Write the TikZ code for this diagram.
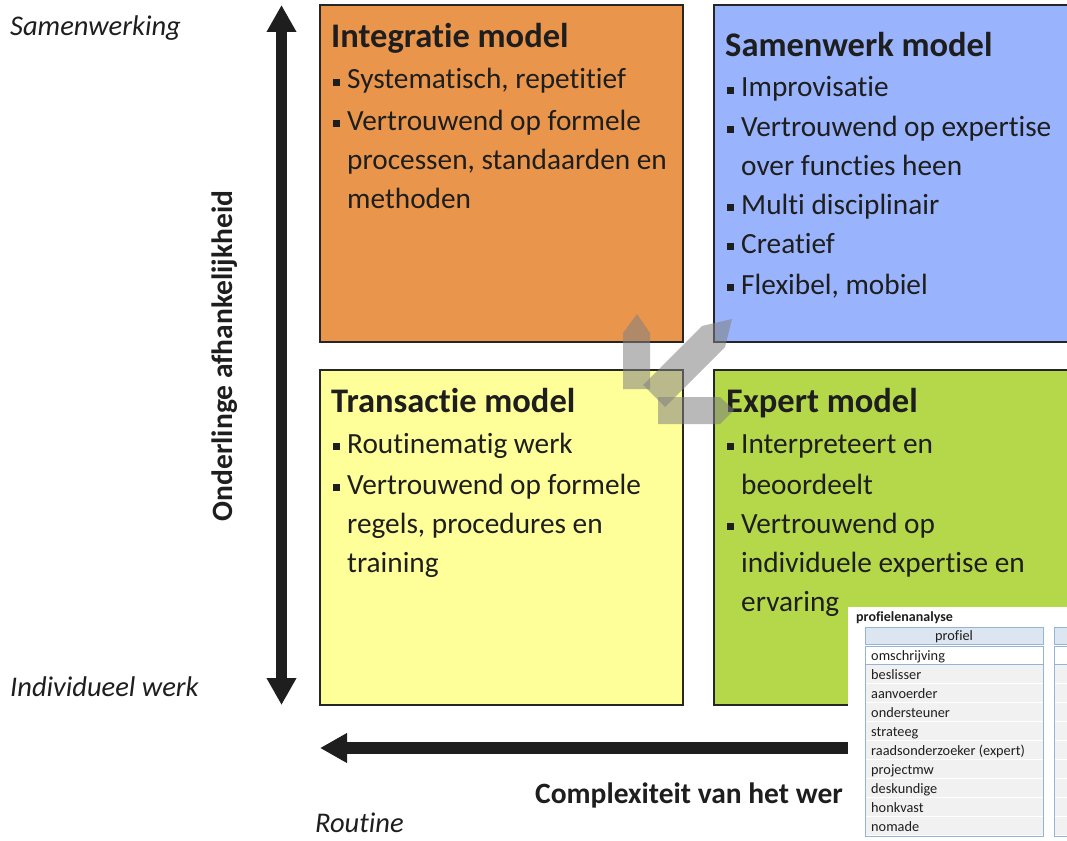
\documentclass[tikz,border=0pt]{standalone}
\usepackage{fontspec}
\setmainfont{Carlito}[Ligatures={NoCommon}]
\usetikzlibrary{arrows.meta}
\definecolor{orangebox}{RGB}{233,150,76}
\definecolor{bluebox}{RGB}{153,179,252}
\definecolor{yellowbox}{RGB}{255,255,153}
\definecolor{greenbox}{RGB}{181,216,74}
\definecolor{boxline}{RGB}{38,38,38}
\definecolor{txt}{RGB}{30,30,30}
\definecolor{hdrblue}{RGB}{220,230,241}
\definecolor{hdrline}{RGB}{149,179,215}
\definecolor{rowgray}{RGB}{241,241,241}
\definecolor{shade}{RGB}{128,128,128}
\newcommand{\sqbullet}{\rule[3pt]{7pt}{7pt}}
\begin{document}
\begin{tikzpicture}[x=1pt,y=-1pt,
  quad/.style={draw=boxline,line width=2pt},
  ttl/.style={anchor=base west,inner sep=0,text=txt,font=\fontsize{34.5}{40}\selectfont\bfseries},
  itm/.style={anchor=base west,inner sep=0,text=txt,font=\fontsize{29.3}{35}\selectfont},
  blt/.style={anchor=base west,inner sep=0,text=txt},
  axlbl/.style={anchor=base west,inner sep=0,text=txt,font=\fontsize{28.5}{34}\selectfont\itshape},
  axbold/.style={inner sep=0,text=txt,font=\fontsize{29.5}{35}\selectfont\bfseries},
  axis/.style={line width=11.5pt,draw=txt},
  grayshape/.style={fill=shade,fill opacity=0.55},
  tcell/.style={anchor=base west,inner sep=0,font=\fontsize{14.3}{16}\selectfont,text=txt},
]
\useasboundingbox (0,0) rectangle (1067,840);
\fill[white] (0,0) rectangle (1067,840);

% quadrants
\path[quad,fill=orangebox] (320,5) rectangle (683,342);
\path[quad,fill=bluebox] (714,5) rectangle (1075,342);
\path[quad,fill=yellowbox] (320,370) rectangle (683,705);
\path[quad,fill=greenbox] (714,370) rectangle (1075,705);

% Integratie model
\node[ttl] (t1) at (331,48) {Integratie model};
\node[blt] (b1a) at (333,89) {\sqbullet};
\node[itm] (l1a) at (347,89) {Systematisch, repetitief};
\node[blt] (b1b) at (333,130) {\sqbullet};
\node[itm] (l1b) at (347,130) {Vertrouwend op formele};
\node[itm] (l1c) at (347,169) {processen, standaarden en};
\node[itm] (l1d) at (347,208) {methoden};

% Samenwerk model
\node[ttl] (t2) at (725,57) {Samenwerk model};
\node[blt] (b2a) at (727,97) {\sqbullet};
\node[itm] (l2a) at (741,97) {Improvisatie};
\node[blt] (b2b) at (727,136) {\sqbullet};
\node[itm] (l2b) at (741,136) {Vertrouwend op expertise};
\node[itm] (l2c) at (741,175) {over functies heen};
\node[blt] (b2d) at (727,214) {\sqbullet};
\node[itm] (l2d) at (741,214) {Multi disciplinair};
\node[blt] (b2e) at (727,253) {\sqbullet};
\node[itm] (l2e) at (741,253) {Creatief};
\node[blt] (b2f) at (727,294) {\sqbullet};
\node[itm] (l2f) at (741,294) {Flexibel, mobiel};

% Transactie model
\node[ttl] (t3) at (331,412) {Transactie model};
\node[blt] (b3a) at (333,453) {\sqbullet};
\node[itm] (l3a) at (347,453) {Routinematig werk};
\node[blt] (b3b) at (333,494) {\sqbullet};
\node[itm] (l3b) at (347,494) {Vertrouwend op formele};
\node[itm] (l3c) at (347,533) {regels, procedures en};
\node[itm] (l3d) at (347,572) {training};

% Expert model
\node[ttl] (t4) at (726,412) {Expert model};
\node[blt] (b4a) at (727,453) {\sqbullet};
\node[itm] (l4a) at (741,453) {Interpreteert en};
\node[itm] (l4b) at (741,494) {beoordeelt};
\node[blt] (b4c) at (727,533) {\sqbullet};
\node[itm] (l4c) at (741,533) {Vertrouwend op};
\node[itm] (l4d) at (741,572) {individuele expertise en};
\node[itm] (l4e) at (741,611) {ervaring};

% axes
\coordinate (ytop) at (281.5,5);
\coordinate (ybot) at (281.5,705);
\coordinate (xleft) at (320,748);
\coordinate (xright) at (860,748);
\draw[axis,{Triangle[width=28pt,length=27pt]}-{Triangle[width=28pt,length=27pt]}] (ybot) -- (ytop);
\draw[axis,-{Triangle[width=28pt,length=27pt]}] (xright) -- (xleft);

% axis labels
\node[axlbl] (samen) at (10,36) {Samenwerking};
\node[axlbl] (indiv) at (10,696) {Individueel werk};
\node[axlbl] (routine) at (315,832) {Routine};
\node[axbold,anchor=base,rotate=90] (onderl) at (232,356) {Onderlinge afhankelijkheid};
\node[axbold,anchor=base west] (complex) at (535,803) {Complexiteit van het wer};

% translucent grey arrows
\fill[grayshape] (623,389) -- (623,333) -- (637,314) -- (650,333) -- (650,389) -- cycle;
\fill[grayshape] (643,385) -- (702,326) -- (732,319) -- (725,347) -- (665,407) -- cycle;
\fill[grayshape] (658,397) -- (720,397) -- (734,410) -- (720,424) -- (658,424) -- cycle;

% table overlay
\fill[white] (848,607) rectangle (1075,845);
\node[anchor=base west,inner sep=0,font=\fontsize{14}{16}\selectfont\bfseries,text=txt] (tabtitle) at (856,621) {profielenanalyse};
\path[fill=hdrblue,draw=hdrline,line width=0.8pt] (865,627) rectangle (1043,644);
\node[anchor=base,inner sep=0,font=\fontsize{14.3}{16}\selectfont,text=txt] (hdr) at (954,640) {profiel};
\path[fill=white,draw=hdrline,line width=0.8pt] (865,646) rectangle (1043,664);
\node[tcell] (r0) at (871,660) {omschrijving};
\foreach \n [count=\i] in {beslisser,aanvoerder,ondersteuner,strateeg,raadsonderzoeker (expert),projectmw,deskundige,honkvast,nomade}{
  \fill[rowgray] (865,646+19*\i) rectangle (1043,664+19*\i);
  \node[tcell] (r\i) at (871,660+19*\i) {\n};
}
\draw[hdrline,line width=0.8pt] (865,664) -- (865,836) -- (1043,836) -- (1043,664);
% second column (cut off)
\path[fill=hdrblue,draw=hdrline,line width=0.8pt] (1054,627) rectangle (1075,644);
\path[fill=white,draw=hdrline,line width=0.8pt] (1054,646) rectangle (1075,664);
\foreach \i in {1,...,9}{
  \fill[rowgray] (1054,646+19*\i) rectangle (1075,664+19*\i);
}
\draw[hdrline,line width=0.8pt] (1054,664) -- (1054,836) -- (1075,836);
\end{tikzpicture}
\end{document}
